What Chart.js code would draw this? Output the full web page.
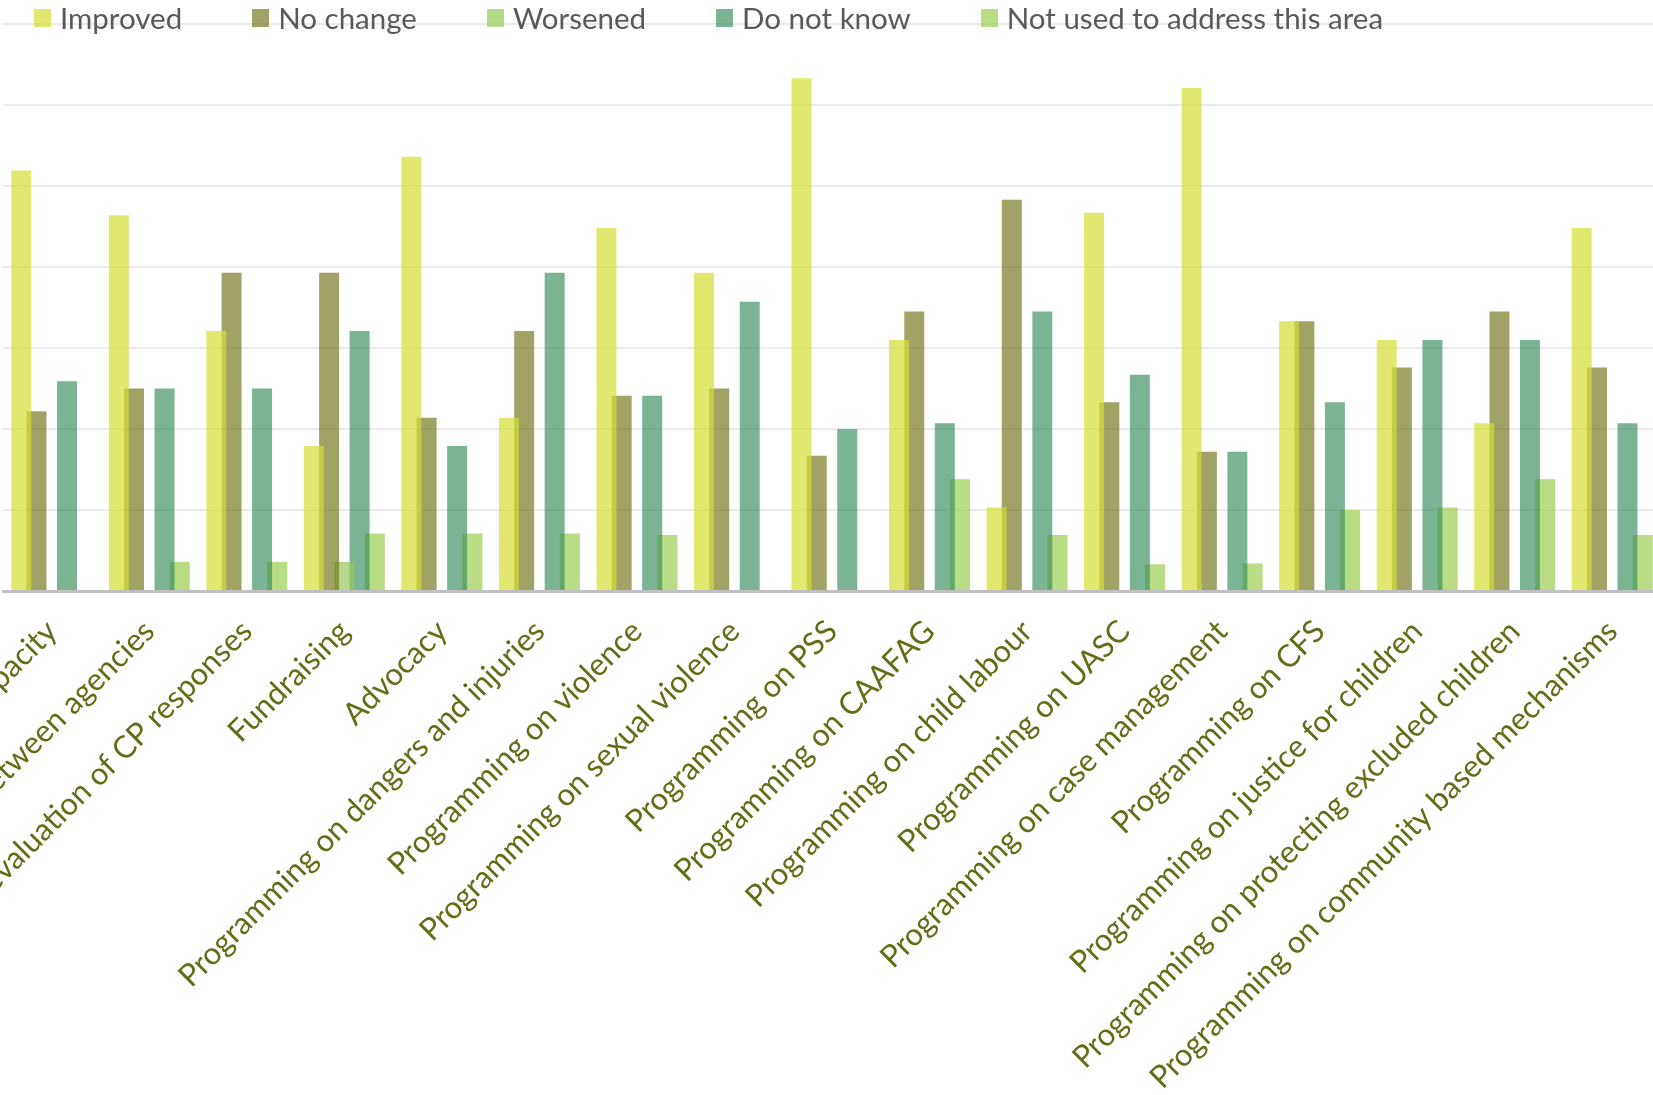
<!DOCTYPE html>
<html>
<head>
<meta charset="utf-8">
<script src="https://cdn.jsdelivr.net/npm/chart.js@4.4.1/dist/chart.umd.min.js"></script>
<style>
  html, body { margin: 0; padding: 0; background: #fff; }
  body { width: 1653px; height: 1095px; overflow: hidden; position: relative; }
  #chart { position: absolute; left: 0; top: 0; }
  #legend { position: absolute; left: 34px; top: 0px; display: flex; align-items: center;
            font-family: Lato, sans-serif; font-size: 29.5px; color: #595959; white-space: nowrap; }
  #legend .item { display: flex; align-items: center; margin-right: 70px; }
  #legend .box { width: 17px; height: 18px; margin-right: 9px; }
</style>
</head>
<body>
<canvas id="chart" width="1661" height="1095"></canvas>
<div id="legend"></div>
<script>
// Share of respondents (%) per area
const categories = [
  'Staff capacity',
  'Coordination between agencies',
  'Monitoring and evaluation of CP responses',
  'Fundraising',
  'Advocacy',
  'Programming on dangers and injuries',
  'Programming on violence',
  'Programming on sexual violence',
  'Programming on PSS',
  'Programming on CAAFAG',
  'Programming on child labour',
  'Programming on UASC',
  'Programming on case management',
  'Programming on CFS',
  'Programming on justice for children',
  'Programming on protecting excluded children',
  'Programming on community based mechanisms'
];
const improved  = [51.9, 46.4, 32.1, 17.9, 53.6, 21.4, 44.8, 39.3, 63.3, 31.0, 10.3, 46.7, 62.1, 33.3, 31.0, 20.7, 44.8];
const noChange  = [22.2, 25.0, 39.3, 39.3, 21.4, 32.1, 24.1, 25.0, 16.7, 34.5, 48.3, 23.3, 17.2, 33.3, 27.6, 34.5, 27.6];
const worsened  = [0, 0, 0, 3.6, 0, 0, 0, 0, 0, 0, 0, 0, 0, 0, 0, 0, 0];
const doNotKnow = [25.9, 25.0, 25.0, 32.1, 17.9, 39.3, 24.1, 35.7, 20.0, 20.7, 34.5, 26.7, 17.2, 23.3, 31.0, 31.0, 20.7];
const notUsed   = [0, 3.6, 3.6, 7.1, 7.1, 7.1, 6.9, 0, 0, 13.8, 6.9, 3.3, 3.4, 10.0, 10.3, 13.8, 6.9];
const yTicks = [0, 10, 20, 30, 40, 50, 60, 70];

const seriesNames  = ['Improved', 'No change', 'Worsened', 'Do not know', 'Not used to address this area'];
const seriesValues = [improved, noChange, worsened, doNotKnow, notUsed];
const seriesColors = [
  'rgba(212,222,50,0.7)',
  'rgba(110,112,20,0.65)',
  'rgba(150,200,90,0.7)',
  'rgba(50,140,90,0.65)',
  'rgba(155,205,80,0.7)'
];

const labelColor = '#656c16';
const labelFont = 'Lato';

const chart = new Chart(document.getElementById('chart').getContext('2d'), {
  type: 'bar',
  data: {
    labels: categories,
    datasets: seriesNames.map((name, i) => ({
      label: name,
      data: seriesValues[i],
      backgroundColor: seriesColors[i],
      borderWidth: 0,
      categoryPercentage: 0.782,
      barPercentage: 1.31
    }))
  },
  options: {
    responsive: false,
    animation: false,
    layout: { padding: { top: 24, left: 3, right: 0, bottom: 0 } },
    plugins: { legend: { display: false }, tooltip: { enabled: false } },
    scales: {
      x: {
        z: 1,
        grid: { display: false },
        border: { display: true, color: '#c0c0c0', width: 3 },
        ticks: {
          autoSkip: false,
          minRotation: 45, maxRotation: 45,
          padding: 14,
          color: labelColor,
          font: { family: labelFont, size: 31 }
        },
        afterFit: (scale) => { scale.height = 504; scale.paddingLeft = 0; scale.paddingRight = 0; }
      },
      y: {
        min: 0, max: 70,
        afterBuildTicks: (scale) => { scale.ticks = yTicks.map(v => ({ value: v })); },
        ticks: { display: false },
        border: { display: false },
        grid: {
          drawTicks: false,
          lineWidth: 2,
          color: (ctx) => ctx.tick && ctx.tick.value === 0 ? 'rgba(0,0,0,0)' : '#ebebeb'
        },
        afterFit: (scale) => { scale.width = 0; }
      }
    }
  }
});

// HTML legend built from the datasets
const legendEl = document.getElementById('legend');
chart.data.datasets.forEach((ds) => {
  const item = document.createElement('div');
  item.className = 'item';
  const box = document.createElement('span');
  box.className = 'box';
  box.style.background = ds.backgroundColor;
  const txt = document.createElement('span');
  txt.textContent = ds.label;
  item.appendChild(box);
  item.appendChild(txt);
  legendEl.appendChild(item);
});
</script>
</body>
</html>
